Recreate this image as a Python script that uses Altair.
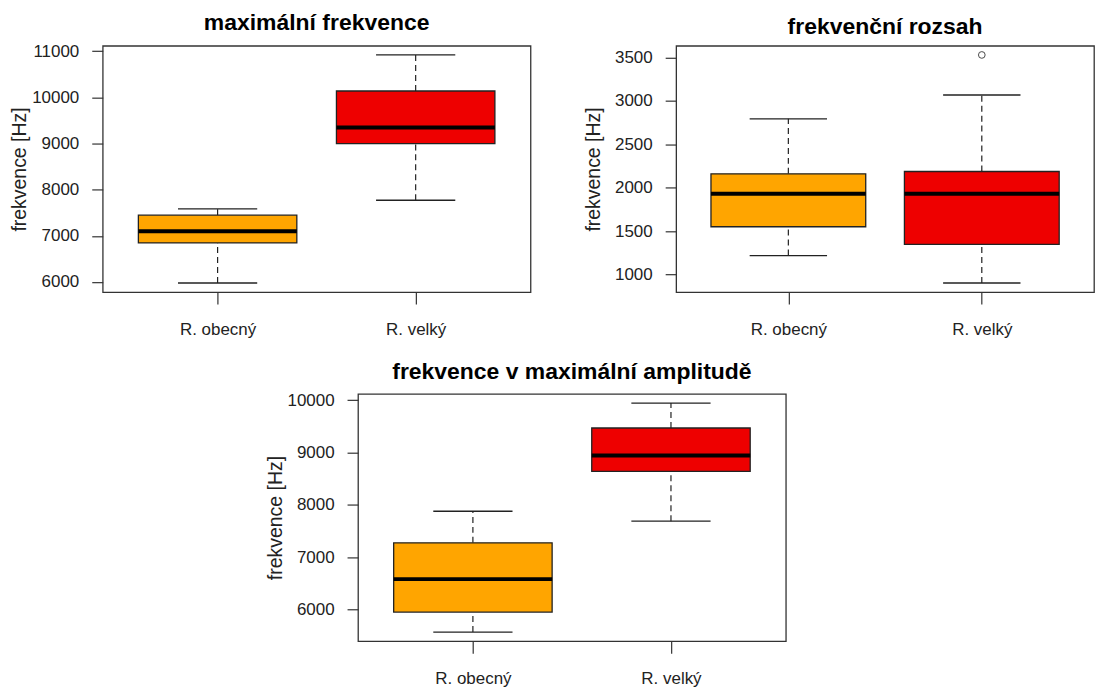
import altair as alt
import pandas as pd

FONT = "Liberation Sans"

groups = ["R. obecný", "R. velký"]
colors = ["#FFA500", "#EE0000"]

# panel 1: maximální frekvence
p1_title = "maximální frekvence"
p1_lo = [5978, 7772]
p1_q1 = [6846, 8999]
p1_med = [7098, 9350]
p1_q3 = [7449, 10139]
p1_hi = [7585, 10921]
p1_out_group = []
p1_out_val = []
p1_ticks = [6000, 7000, 8000, 9000, 10000, 11000]

# panel 2: frekvenční rozsah
p2_title = "frekvenční rozsah"
p2_lo = [1218, 901]
p2_q1 = [1550, 1347]
p2_med = [1931, 1931]
p2_q3 = [2160, 2187]
p2_hi = [2794, 3069]
p2_out_group = ["R. velký"]
p2_out_val = [3531]
p2_ticks = [1000, 1500, 2000, 2500, 3000, 3500]

# panel 3: frekvence v maximální amplitudě
p3_title = "frekvence v maximální amplitudě"
p3_lo = [5575, 7689]
p3_q1 = [5956, 8641]
p3_med = [6584, 8940]
p3_q3 = [7276, 9467]
p3_hi = [7879, 9943]
p3_out_group = []
p3_out_val = []
p3_ticks = [6000, 7000, 8000, 9000, 10000]

y_title = "frekvence [Hz]"
LINE = "#222222"
TITLE_OFFSET = -11


def label_expr():
    expr = "''"
    for i in range(len(groups) - 1, -1, -1):
        expr = f"datum.value == {i + 1} ? '{groups[i]}' : ({expr})"
    return expr


def panel(title, lo, q1, med, q3, hi, out_g, out_v, ticks, w, h):
    n = len(groups)
    df = pd.DataFrame({
        "group": groups, "pos": list(range(1, n + 1)),
        "lo": lo, "q1": q1, "med": med, "q3": q3, "hi": hi,
    })
    allv = list(lo) + list(hi) + list(out_v)
    mn, mx = min(allv), max(allv)
    pad = 0.04 * (mx - mn)
    ys = alt.Scale(domain=[mn - pad, mx + pad], nice=False, zero=False)
    xs = alt.Scale(domain=[0.5 - 0.04 * n, n + 0.5 + 0.04 * n], nice=False, zero=False)
    xaxis = alt.Axis(values=list(range(1, n + 1)), labelExpr=label_expr(), title=None,
                     grid=False, domain=False, tickSize=12, labelPadding=17, labelAngle=0,
                     labelFlush=False, labelOverlap=False)
    yaxis = alt.Axis(values=ticks, format="d", title=y_title, grid=False, domain=False,
                     tickSize=11, labelPadding=13, labelFlush=False, labelOverlap=False,
                     titleX=-83, titleY=h / 2, titleAngle=270, titleBaseline="middle",
                     titleAlign="center")

    def X(f):
        return alt.X(f, type="quantitative", scale=xs, axis=xaxis)

    def Y(f):
        return alt.Y(f, type="quantitative", scale=ys, axis=yaxis)

    base = alt.Chart(df).transform_calculate(
        bl="datum.pos - 0.4", br="datum.pos + 0.4",
        cl="datum.pos - 0.2", cr="datum.pos + 0.2",
    )
    wu = base.mark_rule(color=LINE, strokeWidth=1.2, strokeDash=[6, 4]).encode(
        x=X("pos"), y=Y("q3"), y2="hi")
    wl = base.mark_rule(color=LINE, strokeWidth=1.2, strokeDash=[6, 4]).encode(
        x=X("pos"), y=Y("lo"), y2="q1")
    ch = base.mark_rule(color=LINE, strokeWidth=1.3).encode(x=X("cl"), x2="cr", y=Y("hi"))
    cl = base.mark_rule(color=LINE, strokeWidth=1.3).encode(x=X("cl"), x2="cr", y=Y("lo"))
    box = base.mark_rect(stroke=LINE, strokeWidth=1.3).encode(
        x=X("bl"), x2="br", y=Y("q1"), y2="q3",
        fill=alt.Fill("group:N", scale=alt.Scale(domain=groups, range=colors), legend=None))
    md = base.mark_rule(color="black", strokeWidth=4).encode(x=X("bl"), x2="br", y=Y("med"))
    layers = [wu, wl, ch, cl, box, md]
    if len(out_v):
        odf = pd.DataFrame({"group": out_g, "val": out_v,
                            "pos": [groups.index(g) + 1 for g in out_g]})
        pts = alt.Chart(odf).mark_point(shape="circle", filled=False, size=45,
                                        color="black", strokeWidth=1).encode(
            x=X("pos"), y=Y("val"))
        layers.append(pts)
    return alt.layer(*layers).properties(
        width=w, height=h,
        title=alt.TitleParams(title, fontSize=23, font=FONT, fontWeight="bold",
                              anchor="middle", frame="group", baseline="alphabetic",
                              offset=TITLE_OFFSET, color="black"),
    )


p1 = panel(p1_title, p1_lo, p1_q1, p1_med, p1_q3, p1_hi, p1_out_group, p1_out_val, p1_ticks, 429, 247)
p2 = panel(p2_title, p2_lo, p2_q1, p2_med, p2_q3, p2_hi, p2_out_group, p2_out_val, p2_ticks, 419, 247)
p3 = panel(p3_title, p3_lo, p3_q1, p3_med, p3_q3, p3_hi, p3_out_group, p3_out_val, p3_ticks, 429, 248)

spacer = alt.Chart(pd.DataFrame({"a": [0]})).mark_point(opacity=0).encode(
    x=alt.X("a:Q", axis=None), y=alt.Y("a:Q", axis=None)
).properties(width=162, height=10, view=alt.ViewBackground(strokeOpacity=0))

chart = alt.vconcat(
    alt.hconcat(p1, p2, spacing=51),
    alt.hconcat(spacer, p3, spacing=0),
    spacing=22,
).properties(
    padding={"left": 9, "top": 10, "right": 0, "bottom": 0}
).configure_view(
    stroke="#333333", strokeWidth=1.3
).configure_axis(
    labelFont=FONT, titleFont=FONT, labelFontSize=17, titleFontSize=19.5,
    titleFontWeight="normal", labelColor="#222222", titleColor="#222222",
    tickColor="#333333", tickWidth=1.2
)

chart.save("out.html", embed_options={"renderer": "svg", "actions": False})
